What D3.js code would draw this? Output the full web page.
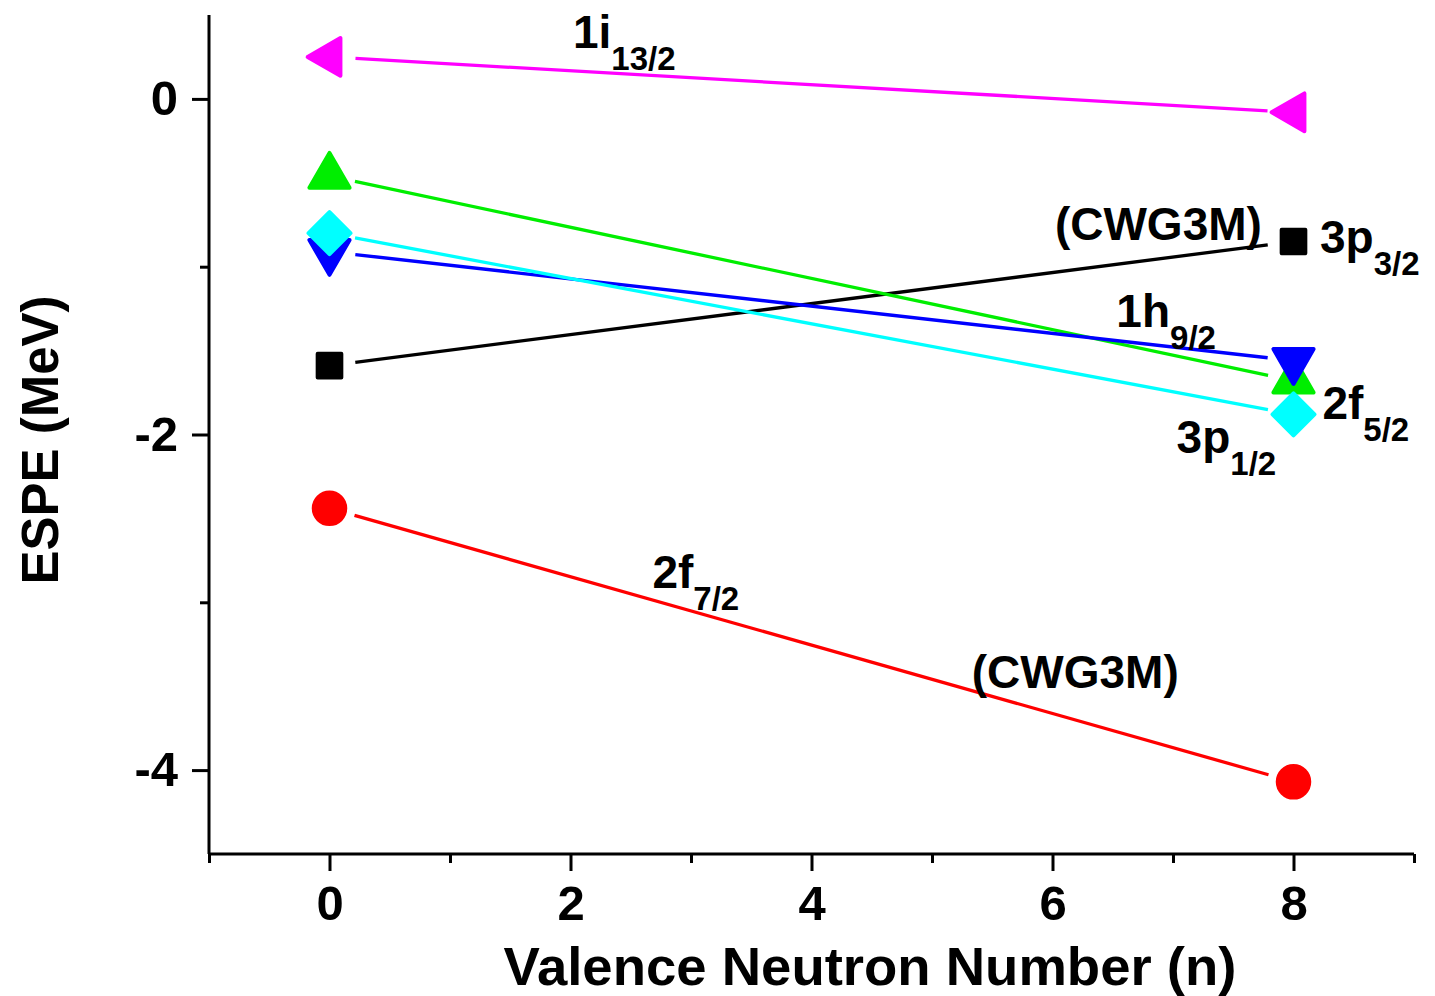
<!DOCTYPE html>
<html>
<head>
<meta charset="utf-8">
<script src="https://cdn.jsdelivr.net/npm/d3@7"></script>
<style>
  body { margin: 0; background: #fff; }
  text { font-family: "Liberation Sans", Arial, sans-serif; font-weight: bold; fill: #000; }
</style>
</head>
<body>
<script>
// valence neutron number
const nValues = [0, 8];

// ESPE values (MeV) for each orbit
const espe_3p32  = [-1.59, -0.85];
const espe_2f72  = [-2.44, -4.07];
const espe_2f52  = [-0.46, -1.68];
const espe_1h92  = [-0.91, -1.56];
const espe_3p12  = [-0.80, -1.88];
const espe_1i132 = [0.25, -0.08];

const xTicks = [0, 2, 4, 6, 8];
const yTicks = [0, -2, -4];

let series = [
  {name: "3p3/2",  vals: espe_3p32,  color: "#000000", shape: "square"},
  {name: "2f7/2",  vals: espe_2f72,  color: "#ff0000", shape: "circle"},
  {name: "2f5/2",  vals: espe_2f52,  color: "#00ee00", shape: "up"},
  {name: "1h9/2",  vals: espe_1h92,  color: "#0000ff", shape: "down"},
  {name: "3p1/2",  vals: espe_3p12,  color: "#00ffff", shape: "diamond"},
  {name: "1i13/2", vals: espe_1i132, color: "#ff00ff", shape: "left"}
];

// orbit labels: main text, subscript, anchor in data units
let labels = [
  {main: "1i",  sub: "13/2", x: 2.02, y: 0.305},
  {main: "3p",  sub: "3/2",  x: 8.22, y: -0.92},
  {main: "1h",  sub: "9/2",  x: 6.53, y: -1.36},
  {main: "2f",  sub: "5/2",  x: 8.24, y: -1.91},
  {main: "3p",  sub: "1/2",  x: 7.03, y: -2.11},
  {main: "2f",  sub: "7/2",  x: 2.68, y: -2.915},
  {main: "(CWG3M)", sub: "", x: 6.02, y: -0.84},
  {main: "(CWG3M)", sub: "", x: 5.33, y: -3.51}
];

let margin = {top: 15, right: 21, bottom: 142, left: 209},
    width = 1435 - margin.left - margin.right,
    height = 996 - margin.top - margin.bottom;

let svg = d3.select("body")
            .append("svg")
            .attr("width", 1435)
            .attr("height", 996);

let g = svg.append("g")
           .attr("transform", `translate(${margin.left}, ${margin.top})`);

let xScale = d3.scaleLinear().domain([-1, 9]).range([0, width]);
let yScale = d3.scaleLinear().domain([-4.5, 0.5]).range([height, 0]);

// axes: major ticks with labels, minor ticks without
const xAxis = d3.axisBottom(xScale).tickValues(xTicks).tickSize(17).tickPadding(14);
const xMinor = d3.axisBottom(xScale).tickValues([-1, 1, 3, 5, 7, 9]).tickSize(9).tickFormat("");
const yAxis = d3.axisLeft(yScale).tickValues(yTicks).tickSize(17).tickPadding(14)
                .tickFormat(d => d === 0 ? "0" : String(d).replace("\u2212", "-"));
const yMinor = d3.axisLeft(yScale).tickValues([-1, -3]).tickSize(9).tickFormat("");

function styleAxis(sel) {
  sel.select(".domain").attr("stroke-width", 3).attr("stroke", "#000");
  sel.selectAll("line").attr("stroke-width", 3).attr("stroke", "#000");
  sel.selectAll("text").style("font-size", "49px").attr("fill", "#000");
}

g.append("g").attr("transform", `translate(0, ${height})`).call(xMinor).call(styleAxis);
g.append("g").attr("transform", `translate(0, ${height})`).call(xAxis).call(styleAxis);
g.append("g").call(yMinor).call(styleAxis);
g.append("g").call(yAxis).call(styleAxis);

g.selectAll(".domain").attr("d", null);
g.append("line").attr("x1", 0).attr("x2", width).attr("y1", height).attr("y2", height)
  .attr("stroke", "#000").attr("stroke-width", 3);
g.append("line").attr("x1", 0).attr("x2", 0).attr("y1", 0).attr("y2", height)
  .attr("stroke", "#000").attr("stroke-width", 3);

// axis titles
svg.append("text")
   .attr("x", 870)
   .attr("y", 985)
   .attr("text-anchor", "middle")
   .style("font-size", "54.5px")
   .text("Valence Neutron Number (n)");

svg.append("text")
   .attr("transform", `translate(58, ${440}) rotate(-90)`)
   .attr("text-anchor", "middle")
   .style("font-size", "51px")
   .text("ESPE (MeV)");

// lines, with a small gap left around the symbols
const gap = 26;
let lines = g.append("g");
series.forEach(s => {
  let x1 = xScale(nValues[0]), y1 = yScale(s.vals[0]),
      x2 = xScale(nValues[1]), y2 = yScale(s.vals[1]);
  let len = Math.hypot(x2 - x1, y2 - y1),
      ux = (x2 - x1) / len, uy = (y2 - y1) / len;
  lines.append("line")
       .attr("x1", x1 + ux * gap).attr("y1", y1 + uy * gap)
       .attr("x2", x2 - ux * gap).attr("y2", y2 - uy * gap)
       .attr("stroke", s.color)
       .attr("stroke-width", 3.3);
});

// symbols
const shapes = {
  square:  {type: d3.symbolSquare,   size: 560,  rot: 0},
  circle:  {type: d3.symbolCircle,   size: 780,  rot: 0},
  up:      {type: d3.symbolTriangle, size: 700,  rot: 0},
  down:    {type: d3.symbolTriangle, size: 700,  rot: 180},
  diamond: {type: d3.symbolSquare,   size: 880,  rot: 45},
  left:    {type: d3.symbolTriangle, size: 620,  rot: -90}
};

series.forEach(s => {
  let sh = shapes[s.shape];
  g.selectAll(null)
   .data(nValues.map((n, i) => ({n: n, v: s.vals[i]})))
   .enter()
   .append("path")
     .attr("d", d3.symbol().type(sh.type).size(sh.size))
     .attr("transform", d => `translate(${xScale(d.n)}, ${yScale(d.v)}) rotate(${sh.rot})`)
     .attr("fill", s.color)
     .attr("stroke", s.color)
     .attr("stroke-width", 4)
     .attr("stroke-linejoin", "round");
});

// orbit labels with subscripts
labels.forEach(l => {
  let t = g.append("text")
           .attr("x", xScale(l.x))
           .attr("y", yScale(l.y))
           .style("font-size", "46px");
  t.append("tspan").text(l.main);
  if (l.sub) {
    t.append("tspan")
     .attr("dy", 22)
     .style("font-size", "33px")
     .text(l.sub);
  }
});
</script>
</body>
</html>
